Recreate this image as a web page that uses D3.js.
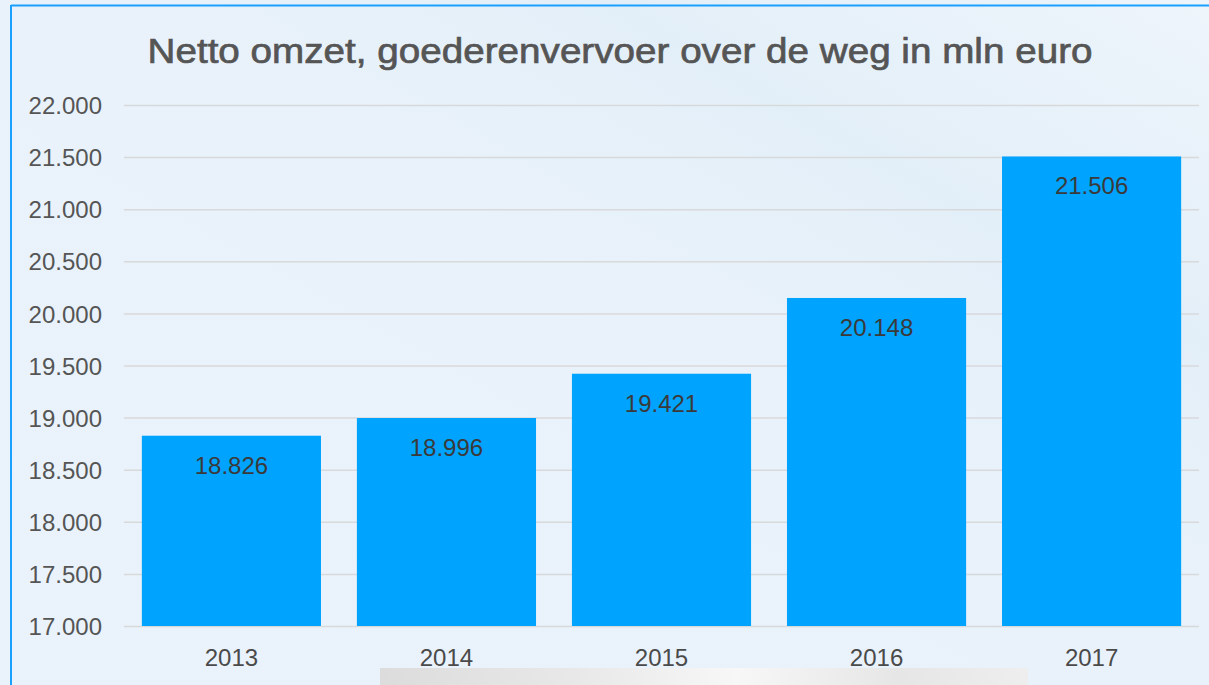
<!DOCTYPE html>
<html lang="nl">
<head>
<meta charset="utf-8">
<title>Netto omzet goederenvervoer</title>
<script src="https://cdn.jsdelivr.net/npm/d3@7"></script>
<style>
  body { margin: 0; background: #eaf3fb; }
  svg { display: block; font-family: "Liberation Sans", Arial, sans-serif; }
  .grid line { stroke: #d8d9db; stroke-width: 1.5; }
  .grid path { display: none; }
</style>
</head>
<body>
<div id="chart"></div>
<script>
var years = ["2013", "2014", "2015", "2016", "2017"]
var omzet = [18826, 18996, 19421, 20148, 21506]
var yTicks = [17000, 17500, 18000, 18500, 19000, 19500, 20000, 20500, 21000, 21500, 22000]
var title = "Netto omzet, goederenvervoer over de weg in mln euro"

var w = 1209, h = 685
var mLeft = 124, mRight = 1199, mTop = 105, mBottom = 626

var fmt = function(v) { return d3.format(",")(v).replace(/,/g, ".") }

var svg = d3.select("#chart").append("svg")
  .attr("width", w).attr("height", h)

// background with faint diagonal streak
var defs = svg.append("defs")
var grad = defs.append("linearGradient").attr("id", "bg")
  .attr("x1", "0").attr("y1", "1").attr("x2", "1").attr("y2", "0")
grad.append("stop").attr("offset", "0").attr("stop-color", "#eaf3fb")
grad.append("stop").attr("offset", "0.55").attr("stop-color", "#e9f2fb")
grad.append("stop").attr("offset", "0.75").attr("stop-color", "#e3eff8")
grad.append("stop").attr("offset", "1").attr("stop-color", "#eef5fb")
svg.append("rect").attr("width", w).attr("height", h).attr("fill", "url(#bg)")

// blue frame lines
svg.append("line").attr("x1", 11).attr("x2", w).attr("y1", 5.5).attr("y2", 5.5)
  .attr("stroke", "#1aa0ff").attr("stroke-width", 2)
svg.append("line").attr("x1", 11).attr("x2", 11).attr("y1", 5).attr("y2", h)
  .attr("stroke", "#1aa0ff").attr("stroke-width", 2)

var x = d3.scaleBand().domain(years).range([mLeft, mRight])
  .paddingInner(0.167).paddingOuter(0.083)
var y = d3.scaleLinear().domain([17000, 22000]).range([mBottom, mTop])

svg.append("g").attr("class", "grid")
  .attr("transform", "translate(" + mLeft + ",0)")
  .call(d3.axisLeft(y).tickValues(yTicks).tickSize(-(mRight - mLeft)).tickFormat(""))

svg.append("g").attr("transform", "translate(102,0)")
  .call(d3.axisLeft(y).tickValues(yTicks).tickSize(0).tickPadding(0).tickFormat(fmt))
  .call(function(g) {
    g.select(".domain").remove()
    g.selectAll("text").attr("fill", "#555").style("font-size", "24px")
      .attr("dy", "0.36em")
  })

svg.selectAll("rect.bar").data(omzet).enter().append("rect")
  .attr("class", "bar")
  .attr("x", function(d, i) { return x(years[i]) })
  .attr("width", x.bandwidth())
  .attr("y", function(d) { return y(d) })
  .attr("height", function(d) { return mBottom - y(d) })
  .attr("fill", "#00a3fe")

svg.selectAll("text.val").data(omzet).enter().append("text")
  .attr("class", "val")
  .attr("x", function(d, i) { return x(years[i]) + x.bandwidth() / 2 })
  .attr("y", function(d) { return y(d) + 38 })
  .attr("text-anchor", "middle")
  .attr("fill", "#3a3a3a")
  .style("font-size", "24px")
  .text(fmt)

svg.append("g").attr("transform", "translate(0," + mBottom + ")")
  .call(d3.axisBottom(x).tickSize(0).tickPadding(0))
  .call(function(g) {
    g.select(".domain").remove()
    g.selectAll("text").attr("fill", "#4a4a4a").style("font-size", "24px")
      .attr("y", 40).attr("dy", 0)
  })

// title: medium weight look, stretched to the reference width
svg.append("text")
  .attr("x", 620).attr("y", 63)
  .attr("text-anchor", "middle")
  .attr("fill", "#555")
  .attr("stroke", "#555")
  .attr("stroke-width", 0.7)
  .attr("textLength", 945)
  .attr("lengthAdjust", "spacingAndGlyphs")
  .style("font-size", "35px")
  .text(title)

// blurred strip at the bottom edge of the screenshot
var strip = defs.append("linearGradient").attr("id", "strip")
  .attr("x1", "0").attr("y1", "0").attr("x2", "1").attr("y2", "0")
strip.append("stop").attr("offset", "0").attr("stop-color", "#dcdcdc")
strip.append("stop").attr("offset", "0.3").attr("stop-color", "#e8e8e8")
strip.append("stop").attr("offset", "0.55").attr("stop-color", "#f7f7f7")
strip.append("stop").attr("offset", "0.8").attr("stop-color", "#e6e6e6")
strip.append("stop").attr("offset", "1").attr("stop-color", "#eeeeee")
svg.append("rect").attr("x", 380).attr("y", 668).attr("width", 648).attr("height", 17)
  .attr("fill", "url(#strip)")
</script>
</body>
</html>
